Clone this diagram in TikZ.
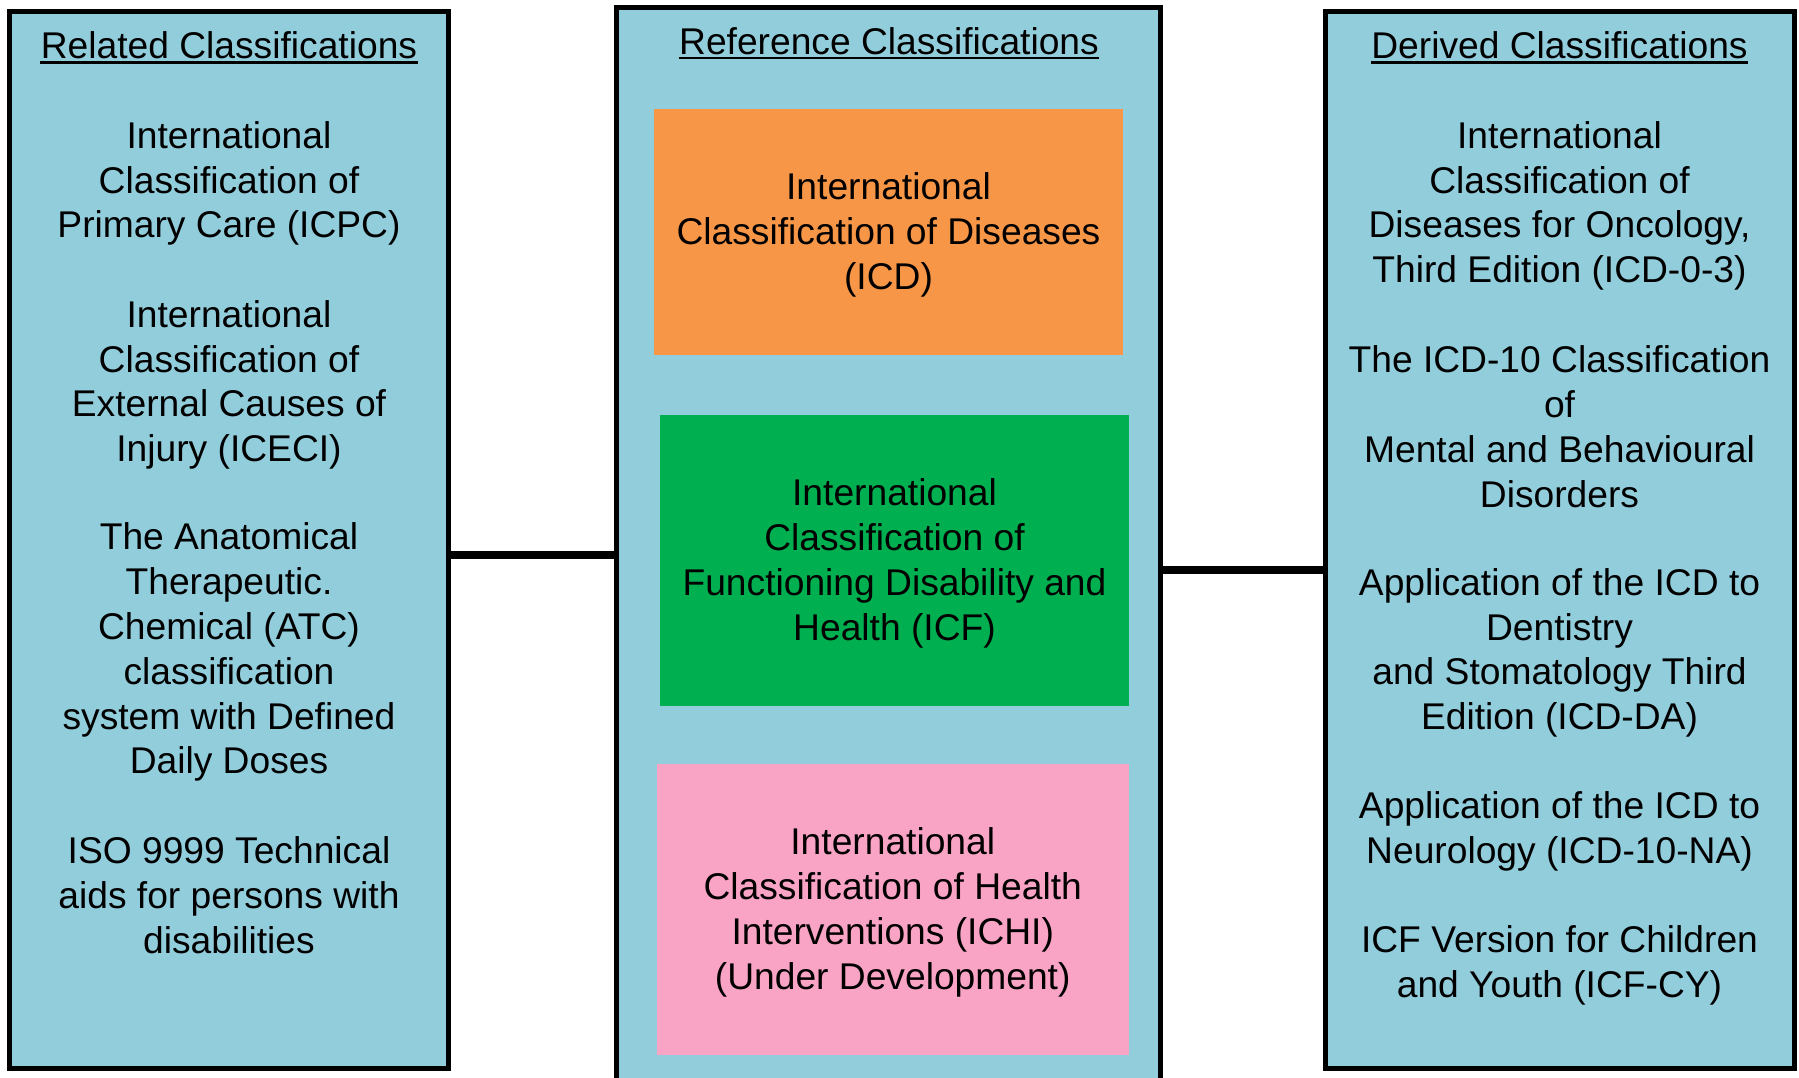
\documentclass[tikz,border=0pt]{standalone}
\usepackage{fontspec}
\setmainfont{Liberation Sans}
\definecolor{bluebg}{HTML}{92CDDC}
\definecolor{orangebox}{HTML}{F79646}
\definecolor{greenbox}{HTML}{00B050}
\definecolor{pinkbox}{HTML}{F9A3C5}
\begin{document}
\begin{tikzpicture}[x=0.5pt,y=-0.5pt,
  panel/.style={draw=black,line width=2.5pt,fill=bluebg,rectangle,outer sep=0pt,inner sep=0pt},
  inner/.style={rectangle,outer sep=0pt,inner sep=0pt},
  txt/.style={align=center,inner sep=0pt,font=\fontsize{18.6pt}{22.4pt}\selectfont},
  ttl/.style={anchor=base,inner sep=0pt,font=\fontsize{18.6pt}{22.4pt}\selectfont},
  uline/.style={line width=1.3pt},
  conn/.style={draw=black,line width=4pt}]
\clip (0,0) rectangle (1799,1077);
\fill[white] (0,0) rectangle (1799,1077);
% panels
\node[panel,minimum width=219.5pt,minimum height=528.75pt] (L) at (229,539.75) {};
\node[panel,minimum width=272pt,minimum height=541.25pt] (C) at (888.5,548.75) {};
\node[panel,minimum width=234.75pt,minimum height=528.75pt] (R) at (1559.75,539.75) {};
% connectors
\coordinate (lj) at (530,555);
\coordinate (rj) at (1240,570);
\draw[conn] (L.east |- lj) -- (C.west |- lj);
\draw[conn] (C.east |- rj) -- (R.west |- rj);
% titles
\node[ttl] (tL) at (229,58.7) {Related Classifications};
\node[ttl] (tC) at (889,54) {Reference Classifications};
\node[ttl] (tR) at (1559.5,58.7) {Derived Classifications};
\draw[uline] ([yshift=-2pt]tL.base west) -- ([yshift=-2pt]tL.base east);
\draw[uline] ([yshift=-2pt]tC.base west) -- ([yshift=-2pt]tC.base east);
\draw[uline] ([yshift=-2pt]tR.base west) -- ([yshift=-2pt]tR.base east);
% center boxes
\node[inner,fill=orangebox,minimum width=234.5pt,minimum height=123pt] (icd) at (888.5,232) {};
\node[inner,fill=greenbox,minimum width=234.5pt,minimum height=145.5pt] (icf) at (894.5,560.5) {};
\node[inner,fill=pinkbox,minimum width=236.25pt,minimum height=145.5pt] (ichi) at (892.75,909.5) {};
\node[txt] (icdt) at ([yshift=-1.4pt]icd.center) {International\\Classification of Diseases\\(ICD)};
\node[txt] (icft) at ([yshift=-1.4pt]icf.center) {International\\Classification of\\Functioning Disability and\\Health (ICF)};
\node[txt] (ichit) at ([yshift=-1.4pt]ichi.center) {International\\Classification of Health\\Interventions (ICHI)\\(Under Development)};
% left texts
\node[txt] (l1) at (229,183.4) {International\\Classification of\\Primary Care (ICPC)};
\node[txt] (l2) at (229,384.9) {International\\Classification of\\External Causes of\\Injury (ICECI)};
\node[txt] (l3) at (229,652.2) {The Anatomical\\Therapeutic.\\Chemical (ATC)\\classification\\system with Defined\\Daily Doses};
\node[txt] (l4) at (229,895) {ISO 9999 Technical\\aids for persons with\\disabilities};
% right texts
\node[txt] (r1) at (1559.5,205.9) {International\\Classification of\\Diseases for Oncology,\\Third Edition (ICD-0-3)};
\node[txt] (r2) at (1559.5,426.6) {The ICD-10 Classification\\of\\Mental and Behavioural\\Disorders};
\node[txt] (r3) at (1559.5,652.8) {Application of the ICD to\\Dentistry\\and Stomatology Third\\Edition (ICD-DA)};
\node[txt] (r4) at (1559.5,831.2) {Application of the ICD to\\Neurology (ICD-10-NA)};
\node[txt] (r5) at (1559.5,965.4) {ICF Version for Children\\and Youth (ICF-CY)};
\end{tikzpicture}
\end{document}
